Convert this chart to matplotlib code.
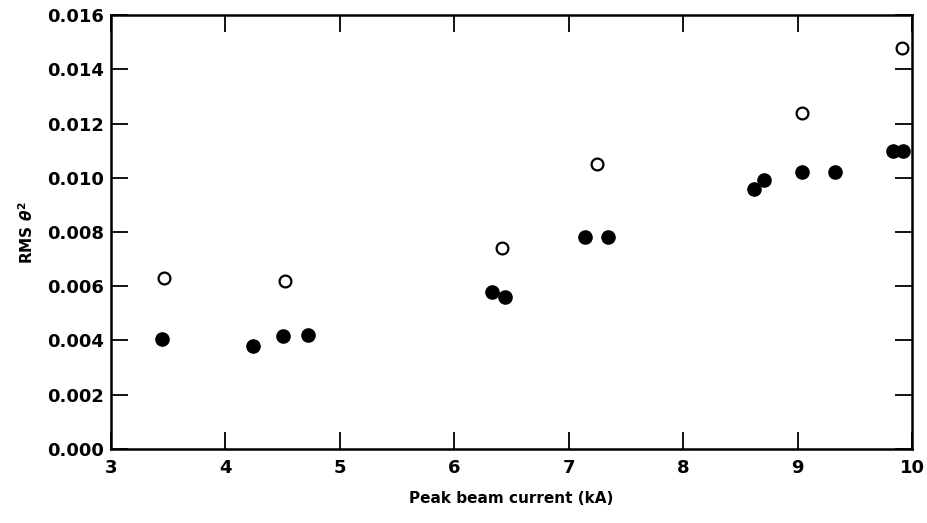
import numpy as np
import matplotlib.pyplot as plt

# open circles
open_I = [3.46, 4.52, 6.42, 7.25, 9.04, 9.91]
open_rms = [0.0063, 0.0062, 0.0074, 0.0105, 0.0124, 0.0148]

# filled circles
filled_I = [3.45, 4.24, 4.50, 4.72, 6.33, 6.44, 7.14, 7.34,
            8.62, 8.71, 9.04, 9.33, 9.83, 9.92]
filled_rms = [0.00405, 0.0038, 0.00415, 0.0042, 0.0058, 0.0056, 0.0078, 0.0078,
              0.0096, 0.0099, 0.0102, 0.0102, 0.0110, 0.0110]

plt.rcParams['font.family'] = 'DejaVu Sans'
plt.rcParams['font.weight'] = 'bold'

fig = plt.figure(figsize=(9.28, 5.23), dpi=100)
ax = fig.add_axes([0.1196, 0.1415, 0.8632, 0.8298])

ax.plot(filled_I, filled_rms, 'o', color='black', markersize=9.5, linestyle='none')
ax.plot(open_I, open_rms, 'o', markerfacecolor='white', markeredgecolor='black',
        markeredgewidth=1.6, markersize=8.5, linestyle='none')

ax.set_xlim(3, 10)
ax.set_ylim(0, 0.016)
ax.set_xticks(np.arange(3, 11, 1))
ax.set_yticks(np.arange(0, 0.0161, 0.002))
ax.set_yticklabels(['%.3f' % v for v in np.arange(0, 0.0161, 0.002)])

for s in ax.spines.values():
    s.set_linewidth(1.8)
ax.tick_params(direction='in', length=12, width=1.3, top=True, right=True,
               labelsize=13)
ax.tick_params(axis='y', pad=5)
ax.tick_params(axis='x', pad=7)

ax.set_xlabel('Peak beam current (kA)', fontsize=11, fontweight='bold', labelpad=10)
ax.set_ylabel(r'RMS $\theta^2$', fontsize=11, fontweight='bold', labelpad=8)

plt.savefig('out.png', dpi=100)
